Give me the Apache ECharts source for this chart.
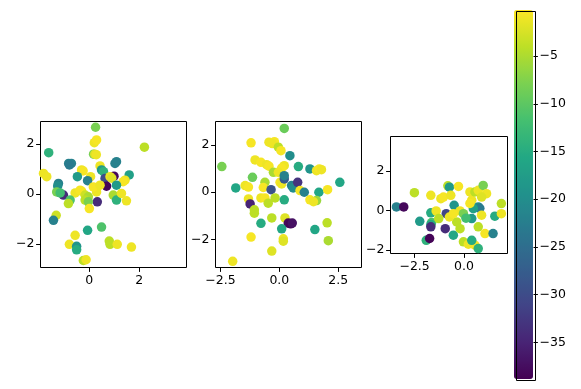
<!DOCTYPE html>
<html><head><meta charset="utf-8">
<script src="https://cdn.jsdelivr.net/npm/echarts@6/dist/echarts.min.js"></script>
<style>html,body{margin:0;padding:0;background:#fff}#c{width:581px;height:389px}</style>
</head><body><div id="c"></div>
<script>
// ---- data ----
const ax1X = [0.25,0.20,0.29,0.17,0.22,0.28,2.21,-1.63,-0.83,-0.72,-0.80,1.03,1.09,0.43,0.49,0.57,-1.84,-1.71,-0.31,-0.25,0.05,-0.48,-0.07,0.63,0.99,0.69,0.83,0.90,1.60,1.43,1.36,1.09,-1.24,-1.27,-1.04,-1.31,-1.17,-0.57,-0.31,-0.37,-0.17,-0.04,0.29,0.16,0.43,0.96,1.09,1.29,1.49,0.32,-0.77,-0.84,-0.17,-0.04,0.00,-1.33,-1.44,0.49,-0.07,-0.57,-0.80,-0.51,-0.51,0.80,0.83,1.12,1.69,-0.24,-0.13];
const ax1Y = [2.68,2.06,2.17,1.60,1.60,1.58,1.88,1.66,1.23,1.23,1.17,1.23,1.30,1.13,0.97,0.90,0.83,0.70,0.97,0.93,0.70,0.70,0.54,0.63,0.72,0.32,0.70,0.64,0.77,0.56,0.50,0.36,0.43,0.33,-0.04,0.09,0.05,0.05,0.12,0.16,-0.04,-0.11,0.09,0.29,0.36,-0.04,-0.24,0.03,-0.27,-0.31,-0.24,-0.38,-0.24,-0.31,-0.58,-0.85,-1.05,-1.32,-1.45,-1.65,-2.01,-2.09,-2.23,-1.88,-2.01,-2.01,-2.12,-2.66,-2.63];
const ax1C = [-8,-1,-0.5,-8,-2,-1,-4,-14,-22,-22,-23,-22,-22,-1,-18,-14,-1,-1,-1,-0.5,-1,-18,-22,-30,-38,-38.5,-1,-2,-17,-1,-0.5,-18,-22,-20,-34,-8,-12,-1,-1,-0.5,-3,-5,-1,-0.5,-1,-5,-14,-1,-1,-34,-11,-4,-4,-8,-0.5,-3,-22,-11,-16,-1,-1,-19,-15,-4,-4,-1,-1,-4,-1];

const ax2X = [0.21,-1.20,-0.44,-0.21,-0.30,-0.04,0.07,0.45,-2.44,-1.03,-0.78,-0.54,-0.44,0.21,0.10,0.81,1.30,1.58,1.70,1.79,-1.14,-0.25,-0.04,-1.85,-1.45,-1.31,-0.61,-0.68,-0.35,0.03,0.10,0.21,0.21,0.52,0.59,0.78,0.88,1.06,1.68,2.05,2.57,-1.31,-1.24,-0.78,-0.61,-0.47,-0.18,0.21,1.30,1.58,1.45,-1.06,-1.06,-0.78,-0.32,0.24,0.38,0.48,0.55,0.10,1.51,2.03,-1.20,0.17,0.17,2.08,-0.32,-1.98];
const ax2Y = [2.69,2.08,2.11,2.13,2.05,1.90,1.75,1.54,1.08,1.36,1.26,1.16,1.10,1.12,1.02,1.08,0.98,0.91,0.98,0.95,0.63,0.84,0.84,0.18,0.28,0.22,0.42,0.20,0.11,0.42,0.35,0.56,0.70,0.28,0.18,0.42,0.07,0.00,0.00,0.11,0.42,-0.28,-0.49,-0.24,-0.24,-0.46,-0.24,-0.32,-0.32,-0.35,-0.40,-0.74,-0.88,-1.31,-1.08,-1.08,-1.30,-1.33,-1.30,-1.54,-1.57,-1.29,-1.89,-1.96,-2.06,-2.04,-2.48,-2.91];
const ax2C = [-9,-0.5,-1,-0.5,-1,-4,-0.5,-20,-8,-1,-0.5,-1,-0.5,-1,-0.5,-15,-19,-1,-0.5,-1,-9,-5,-1,-16,-1,-0.5,-5,-0.5,-29,-0.5,-1,-28,-22,-22,-20,-33,-0.5,-22,-16,-0.5,-16,-1,-35,-1,-0.5,-4,-4,-15,-0.5,-6,-1,-4,-4,-15,-4,-2,-38,-38.5,-37,-16,-16,-4,-0.5,-1,-2,-5,-2,-1];

const ax3X = [-3.42,-3.05,-2.51,-2.24,-1.68,-1.17,-1.04,-0.82,-0.74,-0.67,-0.28,-1.68,-1.41,-0.90,-1.64,-1.68,-1.68,-1.91,-1.74,-0.95,-0.54,-0.50,-1.28,-0.20,-0.37,-0.20,-0.03,0.30,0.39,0.55,0.72,0.97,1.14,0.89,0.72,0.80,0.47,0.39,0.89,0.72,1.06,1.47,1.56,1.89,1.89,-0.03,0.22,0.55,0.39,0.72,-0.74,-0.54,0.10,0.30];
const ax3Y = [0.17,0.17,0.89,-0.56,0.76,0.59,0.67,1.24,1.17,0.76,1.21,-0.13,-0.03,-0.17,-0.62,-0.72,-0.84,-1.52,-1.43,-0.93,-1.26,0.25,-0.42,-0.03,-0.59,-0.93,-0.17,0.93,0.51,0.93,1.01,1.26,0.84,0.67,0.17,0.10,0.08,-0.42,-0.25,-0.84,-1.18,-1.18,-0.30,0.34,-0.17,-1.60,-1.72,-1.77,-1.52,-1.94,-0.34,-0.17,-0.40,0.35];
const ax3C = [-22,-38,-4,-18,-1,-1,-0.5,-4,-18,-1,-0.5,-15,-1,-31,-11,-15,-34,-14,-38.5,-34,-16,-19,-4,-1,-4,-4,-8,-1,-1,-4,-1,-8,-1,-2,-20,-23,-17,-18,-1,-4,-0.5,-22,-15,-4,-1,-4,-1,-0.5,-15,-14,-1,-0.5,-12,-0.5];

const ticks1X = [0, 2];
const ticks1Y = [-2, 0, 2];
const ticks2X = [-2.5, 0, 2.5];
const ticks2Y = [-2, 0, 2];
const ticks3X = [-2.5, 0];
const ticks3Y = [-2, 0, 2];
const cbarTicks = [-35, -30, -25, -20, -15, -10, -5];
const cMin = -38.8, cMax = -0.1;

const viridis = ['#440154','#482475','#414487','#355f8d','#2a788e','#21918c','#22a884','#44bf70','#7ad151','#bddf26','#fde725'];

function zipPts(xs, ys, cs) { return xs.map((x, i) => [x, ys[i], cs[i]]); }
const minus = s => String(s).replace('-', '\u2212');
const fmtInt = v => minus(Math.round(v));
const fmt1 = v => minus(v.toFixed(1));

function mkAxis(kind, gridIndex, min, max, ticks, fmt, extra) {
  return Object.assign({
    type: 'value', gridIndex, min, max,
    axisLine: { show: false, onZero: false },
    splitLine: { show: false },
    axisTick: { show: true, inside: false, length: 4.4, lineStyle: { color: '#000', width: 1 }, customValues: ticks },
    axisLabel: { show: true, customValues: ticks, formatter: fmt, color: '#000', fontSize: 12.5,
                 fontFamily: 'DejaVu Sans', margin: kind === 'x' ? 7 : 6 }
  }, extra || {});
}

const gridStyle = { show: true, borderColor: '#000', borderWidth: 1, backgroundColor: 'transparent' };
const pointStyle = { opacity: 1 };

const chart = echarts.init(document.getElementById('c'), null, { renderer: 'canvas' });
chart.setOption({
  animation: false,
  backgroundColor: '#fff',
  grid: [
    Object.assign({ left: 40.5, top: 121.5, width: 146, height: 146 }, gridStyle),
    Object.assign({ left: 215.5, top: 121.5, width: 146, height: 146 }, gridStyle),
    Object.assign({ left: 390.5, top: 136.5, width: 117, height: 117 }, gridStyle),
    { left: 514.5, top: 9.5, width: 19, height: 369, show: false }
  ],
  xAxis: [
    mkAxis('x', 0, -1.96, 3.9, ticks1X, fmtInt),
    mkAxis('x', 1, -2.71, 3.49, ticks2X, fmt1),
    mkAxis('x', 2, -3.72, 2.2, ticks3X, fmt1),
    { type: 'value', gridIndex: 3, min: 0, max: 1, show: false }
  ],
  yAxis: [
    mkAxis('y', 0, -2.94, 2.91, ticks1Y, fmtInt),
    mkAxis('y', 1, -3.17, 2.98, ticks2Y, fmtInt),
    mkAxis('y', 2, -2.19, 3.74, ticks3Y, fmtInt),
    mkAxis('y', 3, cMin, cMax, cbarTicks, fmtInt, { position: 'right', z: 10 })
  ],
  visualMap: {
    type: 'continuous', min: cMin, max: cMax, dimension: 2, seriesIndex: [0, 1, 2],
    inRange: { color: viridis, opacity: 1 }, left: 514, top: 10, itemWidth: 19, itemHeight: 369,
    padding: 0, calculable: false, hoverLink: false, orient: 'vertical', text: null
  },
  graphic: [{
    type: 'rect', left: 514, top: 9, z: 100, silent: true,
    shape: { x: 0.5, y: 0.5, width: 19, height: 369 },
    style: { fill: 'none', stroke: '#000', lineWidth: 1 }
  }],
  series: [
    { type: 'scatter', xAxisIndex: 0, yAxisIndex: 0, symbolSize: 9.5, itemStyle: pointStyle, data: zipPts(ax1X, ax1Y, ax1C), emphasis: { disabled: true } },
    { type: 'scatter', xAxisIndex: 1, yAxisIndex: 1, symbolSize: 9.5, itemStyle: pointStyle, data: zipPts(ax2X, ax2Y, ax2C), emphasis: { disabled: true } },
    { type: 'scatter', xAxisIndex: 2, yAxisIndex: 2, symbolSize: 9.5, itemStyle: pointStyle, data: zipPts(ax3X, ax3Y, ax3C), emphasis: { disabled: true } }
  ]
});
</script></body></html>
